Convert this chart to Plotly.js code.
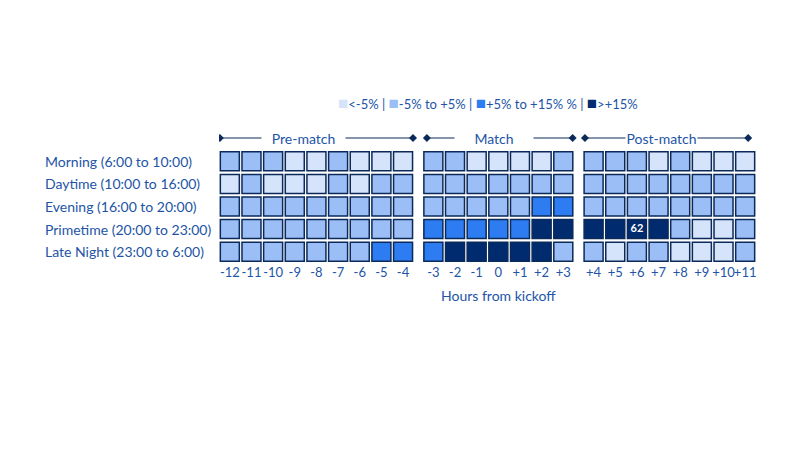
<!DOCTYPE html>
<html>
<head>
<meta charset="utf-8">
<script src="https://cdn.plot.ly/plotly-3.0.1.min.js"></script>
<style>html,body{margin:0;padding:0;background:#fff;}#chart{width:800px;height:450px;}</style>
</head>
<body>
<div id="chart"></div>
<script>
// ---- data ----
const hourLabels = ["-12","-11","-10","-9","-8","-7","-6","-5","-4",
                    "-3","-2","-1","0","+1","+2","+3",
                    "+4","+5","+6","+7","+8","+9","+10","+11"];
const groupNames = ["Pre-match", "Match", "Post-match"];
const groupSizes = [9, 7, 8];
const periods = ["Morning (6:00 to 10:00)", "Daytime (10:00 to 16:00)", "Evening (16:00 to 20:00)",
                 "Primetime (20:00 to 23:00)", "Late Night (23:00 to 6:00)"];
// category codes: 0 = <-5%, 1 = -5% to +5%, 2 = +5% to +15%, 3 = >+15%
const morning   = [1,1,1,0,0,1,0,0,0, 1,1,0,0,0,0,1, 1,1,1,0,1,0,0,0];
const daytime   = [0,1,0,0,0,1,0,1,1, 1,1,1,1,1,1,1, 1,1,1,1,1,1,1,1];
const evening   = [1,1,1,1,1,1,1,1,1, 1,1,1,1,1,2,2, 1,1,1,1,1,1,1,1];
const primetime = [1,1,1,1,1,1,1,1,1, 2,2,2,2,2,3,3, 3,3,3,3,1,0,0,1];
const lateNight = [1,1,1,1,1,1,1,2,2, 2,3,3,3,3,3,1, 1,0,1,1,0,0,0,1];
const categoryNames = ["<-5%", "-5% to +5%", "+5% to +15% %", ">+15%"];
const labelledPeriod = "Primetime (20:00 to 23:00)";
const labelledHour = "+6";
const labelledValue = "62";

// ---- styles ----
const catColors = ["#d5e3fb", "#9bbef6", "#2e7cf1", "#002b6e"];
const borderColor = "#0b2a5a";
const textColor = "#2254a6";
const FONT = "Lato, 'Noto Sans', sans-serif";
const groupGap = 0.4;
const headerEnds = [[-0.46, 0.46], [-0.3, 0.43], [-0.4, 0.14]];
const headerShift = [-13, -4, -8];
const headerGapWidth = [83, 78, 71];

// x positions (group gaps)
const xpos = [];
let gi = 0, inGroup = 0;
for (let i = 0; i < hourLabels.length; i++) {
  xpos.push(i + gi * groupGap);
  inGroup++;
  if (inGroup === groupSizes[gi]) { gi++; inGroup = 0; }
}
const rows = [morning, daytime, evening, primetime, lateNight];

const xs = [], ys = [], cols = [], txt = [];
rows.forEach((row, r) => {
  row.forEach((c, i) => {
    xs.push(xpos[i]); ys.push(r);
    cols.push(catColors[c]);
    txt.push(periods[r] === labelledPeriod && hourLabels[i] === labelledHour ? labelledValue : "");
  });
});

const cells = {
  type: "scatter", mode: "markers+text", x: xs, y: ys, text: txt,
  textposition: "middle center",
  textfont: {family: FONT, size: 11, color: "#ffffff", weight: 700},
  marker: {symbol: "square", size: 19, color: cols, line: {color: borderColor, width: 1.5}},
  hoverinfo: "skip", showlegend: false
};

// layout geometry
const M = {l: 219, r: 44, t: 150, b: 187};
const plotH = 450 - M.t - M.b, plotW = 800 - M.l - M.r;
const xmax = xpos[xpos.length - 1] + 0.5;
const pxPerUnit = plotW / (xmax + 0.5);
const py = p => (450 - M.b - p) / plotH;
const px = p => (p - M.l) / plotW;

const annotations = [];
const shapes = [];
// row labels
periods.forEach((p, r) => annotations.push({
  text: p, x: px(43), xref: "paper", y: r, yref: "y", xanchor: "left", yanchor: "middle",
  showarrow: false, font: {family: FONT, size: 14, color: textColor}
}));
// group headers
let start = 0;
const headerY = py(138);
const dx = 4 / pxPerUnit, dy = 4 / plotH;
groupNames.forEach((g, k) => {
  const x0 = xpos[start] + headerEnds[k][0], x1 = xpos[start + groupSizes[k] - 1] + headerEnds[k][1];
  const xc = (xpos[start] + xpos[start + groupSizes[k] - 1]) / 2;
  shapes.push({type: "line", xref: "x", yref: "paper", x0: x0, x1: x1, y0: headerY, y1: headerY,
               line: {color: borderColor, width: 1}});
  [x0, x1].forEach(xa => shapes.push({type: "path", xref: "x", yref: "paper",
               path: `M${xa - dx},${headerY} L${xa},${headerY + dy} L${xa + dx},${headerY} L${xa},${headerY - dy} Z`,
               fillcolor: borderColor, line: {width: 0}}));
  annotations.push({text: g, x: xc, xref: "x", y: headerY, yref: "paper", showarrow: false,
    xshift: headerShift[k], xanchor: "center", yanchor: "middle", bgcolor: "#ffffff", borderpad: 0,
    width: headerGapWidth[k], align: "center",
    font: {family: FONT, size: 14, color: textColor}});
  start += groupSizes[k];
});
// x axis title (centered under match group)
annotations.push({text: "Hours from kickoff", x: (xpos[9] + xpos[15]) / 2, xref: "x", y: py(295), yref: "paper",
  showarrow: false, xanchor: "center", yanchor: "middle", font: {family: FONT, size: 14, color: textColor}});
// legend line
const esc = s => s.replace(/</g, "&lt;").replace(/>/g, "&gt;");
const legendText = categoryNames.map((n, i) =>
  `<span style="color:${catColors[i]};font-size:17px">■</span>${esc(n)}`).join(" | ");
annotations.push({text: legendText, x: px(488), xref: "paper", y: py(102), yref: "paper",
  showarrow: false, xanchor: "center", yanchor: "middle", font: {family: FONT, size: 13, color: textColor}});

const layout = {
  width: 800, height: 450, margin: M,
  paper_bgcolor: "#ffffff", plot_bgcolor: "#ffffff",
  showlegend: false,
  xaxis: {range: [-0.5, xmax], tickvals: xpos, ticktext: hourLabels,
          showgrid: false, zeroline: false, showline: false, ticks: "", fixedrange: true,
          tickfont: {family: FONT, size: 13, color: textColor}, tickangle: 0},
  yaxis: {range: [4.5, -0.5], showticklabels: false, showgrid: false, zeroline: false, showline: false, fixedrange: true},
  annotations: annotations, shapes: shapes
};
Plotly.newPlot("chart", [cells], layout, {displayModeBar: false, staticPlot: true});
</script>
</body>
</html>
